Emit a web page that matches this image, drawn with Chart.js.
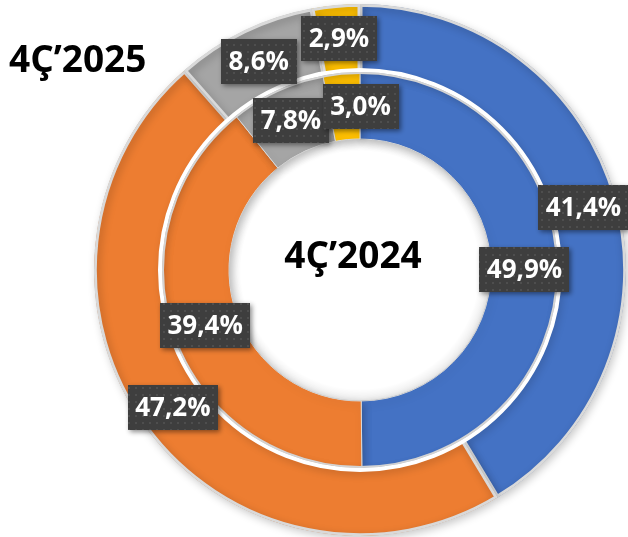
<!DOCTYPE html>
<html><head><meta charset="utf-8">
<script src="https://cdn.jsdelivr.net/npm/chart.js@4.4.1/dist/chart.umd.min.js"></script>
<style>html,body{margin:0;padding:0;background:#fff;} #wrap{position:relative;width:628px;height:537px;}</style>
</head><body><div id="wrap"><canvas id="c"></canvas></div>
<script>
const categories = ['Kategori 1', 'Kategori 2', 'Kategori 3', 'Kategori 4'];
const ringTitles = ['4Ç’2025', '4Ç’2024'];
const values2025 = [41.4, 47.2, 8.6, 2.9];
const values2024 = [49.9, 39.4, 7.8, 3.0];
const colors = ['#4472C4', '#ED7D31', '#A5A5A5', '#FFC000'];
const labelNudge = [[[0,0],[0,0],[0,0],[0,0]], [[0,0],[0,0],[0,0],[16,0]]];

const fmt = v => v.toFixed(1).replace('.', ',') + '%';

function makePattern(ctx) {
  const t = document.createElement('canvas');
  t.width = 7; t.height = 7;
  const c = t.getContext('2d');
  c.fillStyle = '#3e3e3e'; c.fillRect(0, 0, 7, 7);
  c.fillStyle = '#4e4e4e'; c.fillRect(2, 2, 2, 2);
  return ctx.createPattern(t, 'repeat');
}

const decor = {
  id: 'decor',
  beforeDatasetsDraw(chart) {
    const ctx = chart.ctx;
    ctx.save();
    ctx.shadowColor = 'rgba(0,0,0,0.22)';
    ctx.shadowBlur = 8;
    ctx.shadowOffsetX = 2;
    ctx.shadowOffsetY = 3;
  },
  afterDatasetsDraw(chart) {
    const ctx = chart.ctx;
    ctx.restore();
    const outer = chart.getDatasetMeta(0).data[0].getProps(['x','y','innerRadius'], true);
    const inner = chart.getDatasetMeta(1).data[0].getProps(['innerRadius'], true);
    ctx.save();
    ctx.beginPath();
    ctx.arc(outer.x, outer.y, outer.innerRadius + 2, 0, Math.PI * 2);
    ctx.lineWidth = 4; ctx.strokeStyle = '#ffffff'; ctx.stroke();
    ctx.beginPath();
    ctx.arc(outer.x, outer.y, outer.innerRadius - 1, 0, Math.PI * 2);
    ctx.lineWidth = 2; ctx.strokeStyle = '#d3d3d3'; ctx.stroke();
    const r = inner.innerRadius;
    const g = ctx.createRadialGradient(outer.x, outer.y, r - 12, outer.x, outer.y, r);
    g.addColorStop(0, 'rgba(0,0,0,0)');
    g.addColorStop(1, 'rgba(0,0,0,0.08)');
    ctx.beginPath();
    ctx.arc(outer.x, outer.y, r, 0, Math.PI * 2);
    ctx.fillStyle = g; ctx.fill();
    ctx.restore();
  },
  afterDraw(chart) {
    const ctx = chart.ctx;
    const pat = makePattern(ctx);
    ctx.save();
    ctx.font = 'bold 26px "Open Sans"';
    ctx.textAlign = 'center';
    ctx.textBaseline = 'middle';
    chart.data.datasets.forEach((ds, di) => {
      const meta = chart.getDatasetMeta(di);
      meta.data.forEach((arc, i) => {
        const p = arc.getCenterPoint(true);
        const x = p.x + labelNudge[di][i][0];
        const y = p.y + labelNudge[di][i][1];
        const txt = fmt(ds.data[i]);
        const w = ctx.measureText(txt).width + 15;
        const h = 45;
        ctx.save();
        ctx.shadowColor = 'rgba(0,0,0,0.45)';
        ctx.shadowBlur = 5; ctx.shadowOffsetX = 2; ctx.shadowOffsetY = 2;
        ctx.fillStyle = pat;
        ctx.fillRect(Math.round(x - w / 2), Math.round(y - h / 2), Math.round(w), h);
        ctx.restore();
        ctx.fillStyle = '#ffffff';
        ctx.fillText(txt, x, y + 1);
      });
    });
    ctx.fillStyle = '#000000';
    ctx.font = 'bold 37px "Open Sans"';
    ctx.textBaseline = 'alphabetic';
    ctx.textAlign = 'left';
    ctx.fillText(ringTitles[0], 9, 72);
    const c = chart.getDatasetMeta(0).data[0].getProps(['x','y'], true);
    ctx.textAlign = 'center';
    ctx.fillText(ringTitles[1], c.x - 7, c.y - 2);
    ctx.restore();
  }
};

new Chart(document.getElementById('c'), {
  type: 'doughnut',
  data: {
    labels: categories,
    datasets: [
      { label: ringTitles[0], data: values2025, backgroundColor: colors, borderColor: '#d9d9d9',
        borderWidth: 2.5, borderAlign: 'inner', weight: 68, clip: false },
      { label: ringTitles[1], data: values2024, backgroundColor: colors, borderColor: '#dadada',
        borderWidth: 1, weight: 67, clip: false }
    ]
  },
  options: {
    responsive: true,
    maintainAspectRatio: false,
    animation: false,
    cutout: '49.25%',
    layout: { padding: { left: 94, right: 2, top: 4, bottom: 1 } },
    plugins: { legend: { display: false }, tooltip: { enabled: false } },
    events: []
  },
  plugins: [decor]
});
</script></body></html>
